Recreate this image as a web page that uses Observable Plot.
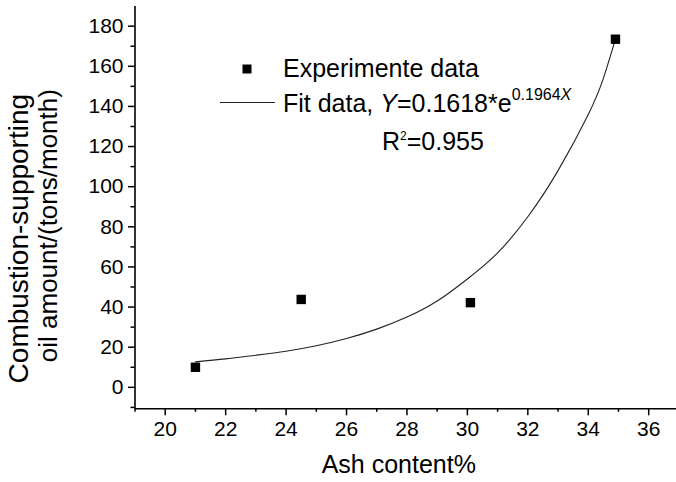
<!DOCTYPE html>
<html><head><meta charset="utf-8">
<script src="https://cdn.jsdelivr.net/npm/d3@7"></script>
<script src="https://cdn.jsdelivr.net/npm/@observablehq/plot@0.6"></script>
<style>body{margin:0;background:#fff}#chart{position:relative;width:676px;height:482px}</style>
</head><body><div id="chart"></div>
<script>
// Experimental data
const ashContent = [21, 24.5, 30.1, 34.9];
const oilAmount = [10, 43.8, 42.2, 173.5];
// Fit curve
const fitX = [21, 22, 23, 24, 25, 26, 27, 28, 29, 30, 31, 32, 33, 34, 34.5, 34.9];
const fitY = [12.7, 14.2, 16, 18, 20.7, 24.3, 29, 35, 43, 54, 67, 85, 108, 136, 154, 173.5];
// Axes
const xDomain = [19, 36.92];
const yDomain = [-10.7, 189.8];
const xMajor = [20, 22, 24, 26, 28, 30, 32, 34, 36];
const xMinor = [19, 21, 23, 25, 27, 29, 31, 33, 35];
const yMajor = [0, 20, 40, 60, 80, 100, 120, 140, 160, 180];
const yMinor = [-10, 10, 30, 50, 70, 90, 110, 130, 150, 170];
const xTitle = "Ash content%";
const yTitle1 = "Combustion-supporting";
const yTitle2 = "oil amount/(tons/month)";
const legendExp = "Experimente data";

const FONT = "'Liberation Sans', Arial, Helvetica, sans-serif";
const points = ashContent.map((x, i) => ({x, y: oilAmount[i]}));
const fit = fitX.map((x, i) => ({x, y: fitY[i]}));

const chart = Plot.plot({
  width: 676, height: 482,
  marginLeft: 134.5, marginRight: 0, marginTop: 6, marginBottom: 73.7,
  x: {domain: xDomain, label: null},
  y: {domain: yDomain, label: null},
  style: {fontFamily: FONT, fontSize: "21px", color: "#000", background: "#fff"},
  marks: [
    Plot.axisY(yMajor, {tickSize: 6.5, tickPadding: 5, fontSize: 21, strokeWidth: 1.5, label: null}),
    Plot.axisY(yMinor, {tickSize: 4, tickFormat: () => "", strokeWidth: 1.5, label: null}),
    Plot.axisX(xMajor, {tickSize: 7, tickPadding: 5, fontSize: 21, strokeWidth: 1.5, label: null}),
    Plot.axisX(xMinor, {tickSize: 3.5, tickFormat: () => "", strokeWidth: 1.5, label: null}),
    Plot.ruleX([xDomain[0]], {stroke: "#000", strokeWidth: 1.6}),
    Plot.ruleY([yDomain[0]], {stroke: "#000", strokeWidth: 1.6}),
    Plot.line(fit, {x: "x", y: "y", curve: "natural", stroke: "#222", strokeWidth: 1.1}),
    Plot.dot(points, {x: "x", y: "y", symbol: "square", r: 5.3, fill: "#000", stroke: "none"}),
    Plot.text([xTitle], {frameAnchor: "bottom", textAnchor: "middle", dx: -7, dy: 64, fontSize: 25, fill: "#000"}),
    Plot.text([yTitle1], {frameAnchor: "left", textAnchor: "middle", rotate: -90, dx: -116, dy: 31, fontSize: 28, fill: "#000"}),
    Plot.text([yTitle2], {frameAnchor: "left", textAnchor: "middle", rotate: -90, dx: -86, dy: 18, fontSize: 26, fill: "#000"})
  ]
});
document.getElementById("chart").appendChild(chart);

// Legend
const svg = d3.select(chart);
const g = svg.append("g").attr("font-family", FONT).attr("fill", "#000").attr("text-anchor", "start");
g.append("rect").attr("x", 242.5).attr("y", 64.5).attr("width", 9).attr("height", 9).attr("fill", "#000");
g.append("line").attr("x1", 220).attr("x2", 275).attr("y1", 102.5).attr("y2", 102.5)
  .attr("stroke", "#222").attr("stroke-width", 1.1);
g.append("text").attr("x", 283).attr("y", 76.5).attr("font-size", 25).text(legendExp);
const t2 = g.append("text").attr("x", 283).attr("y", 112).attr("font-size", 25);
t2.append("tspan").text("Fit data, ");
t2.append("tspan").attr("font-style", "italic").text("Y");
t2.append("tspan").text("=0.1618*e");
t2.append("tspan").attr("font-size", 16).attr("dy", -12).text("0.1964");
t2.append("tspan").attr("font-size", 16).attr("font-style", "italic").text("X");
const t3 = g.append("text").attr("x", 382).attr("y", 150).attr("font-size", 25);
t3.append("tspan").text("R");
t3.append("tspan").attr("font-size", 12).attr("dy", -10).text("2");
t3.append("tspan").attr("dy", 10).text("=0.955");
</script></body></html>
